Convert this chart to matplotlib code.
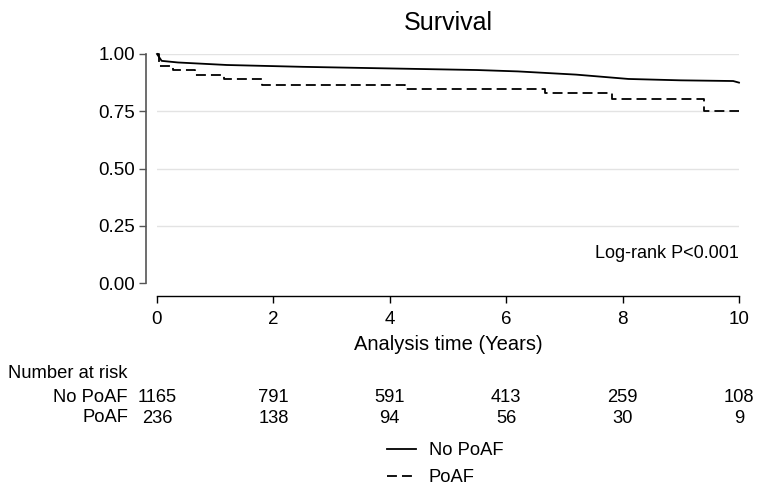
"""
Kaplan-Meier style survival curves (No PoAF vs PoAF) with number-at-risk table.
"""

import matplotlib
matplotlib.use("Agg")
import matplotlib.pyplot as plt
from matplotlib.lines import Line2D

plt.rcParams["font.family"] = ["Liberation Sans", "DejaVu Sans"]

# Survival estimates
no_poaf_t = [0, 0.08, 0.36, 1.2, 2.5, 4.2, 5.5, 6.2, 7.2, 8.1, 9.0, 9.9, 10.0]
no_poaf_s = [1.0, 0.970, 0.963, 0.952, 0.944, 0.936, 0.930, 0.924, 0.910, 0.891, 0.885, 0.882, 0.875]

poaf_t = [0, 0.03, 0.27, 0.65, 1.15, 1.8, 4.26, 6.67, 7.82, 9.4, 10.0]
poaf_s = [1.0, 0.949, 0.931, 0.908, 0.889, 0.865, 0.845, 0.829, 0.802, 0.75, 0.75]

# Number at risk
risk_times = [0, 2, 4, 6, 8, 10]
risk_no_poaf = [1165, 791, 591, 413, 259, 108]
risk_poaf = [236, 138, 94, 56, 30, 9]
group_labels = ["No PoAF", "PoAF"]

y_ticks = [0.0, 0.25, 0.5, 0.75, 1.0]
x_ticks = [0, 2, 4, 6, 8, 10]

W, H = 764, 491
fig = plt.figure(figsize=(W / 100, H / 100), dpi=100)
fig.patch.set_facecolor("white")

# axes area: x 0..10 -> px 157..739, y 0..1 -> px 283..54
ax = fig.add_axes([157 / W, 1 - 283 / H, (739 - 157) / W, (283 - 54) / H])
ax.set_xlim(0, 10)
ax.set_ylim(0, 1)

for y in y_ticks[1:]:
    ax.axhline(y, color="#e3e3e3", lw=1.0, zorder=0)

ax.plot(no_poaf_t, no_poaf_s, color="black", lw=1.3, clip_on=False)
ax.step(poaf_t, poaf_s, where="post", color="black", lw=1.3,
        dashes=(5.5, 2.8), clip_on=False)

# spines, Stata-like offset axes
for side in ["top", "right"]:
    ax.spines[side].set_visible(False)
ax.spines["left"].set_position(("outward", 8))
ax.spines["bottom"].set_position(("outward", 9.5))
ax.spines["left"].set_color("#555555")
ax.spines["left"].set_linewidth(1.2)
ax.spines["bottom"].set_linewidth(1.0)

ax.set_yticks(y_ticks)
ax.set_yticklabels([f"{v:.2f}" for v in y_ticks])
ax.set_xticks(x_ticks)
ax.tick_params(axis="y", length=5, width=1, color="#555555", labelsize=13.5, pad=3)
ax.tick_params(axis="x", length=5, width=1, labelsize=13.5, pad=6)

ax.set_xlabel("Analysis time (Years)", fontsize=14.5, labelpad=5)
ax.set_title("Survival", fontsize=18, pad=17)

ax.text(10, 0.13, "Log-rank P<0.001", ha="right", va="center", fontsize=13)

# number at risk table
trans = ax.get_xaxis_transform()
fig.text(8 / W, 1 - 374 / H, "Number at risk", ha="left", va="center", fontsize=13.2)
for row_y, label, counts in [(397, group_labels[0], risk_no_poaf),
                             (418, group_labels[1], risk_poaf)]:
    fig.text(128 / W, 1 - row_y / H, label, ha="right", va="center", fontsize=13.2)
    yy = -(row_y - 283) / (283 - 54)
    for t, n in zip(risk_times, counts):
        ax.text(t, yy, str(n), transform=trans, ha="center", va="center",
                fontsize=13.2, clip_on=False)

# legend
handles = [Line2D([], [], color="black", lw=1.3),
           Line2D([], [], color="black", lw=1.3, dashes=(5.5, 2.8))]
fig.legend(handles, group_labels, loc="center", bbox_to_anchor=(445 / W, 1 - 464 / H),
           frameon=False, fontsize=13.2, handlelength=1.6, handletextpad=0.7,
           labelspacing=0.55)

fig.savefig("out.png", dpi=100)
